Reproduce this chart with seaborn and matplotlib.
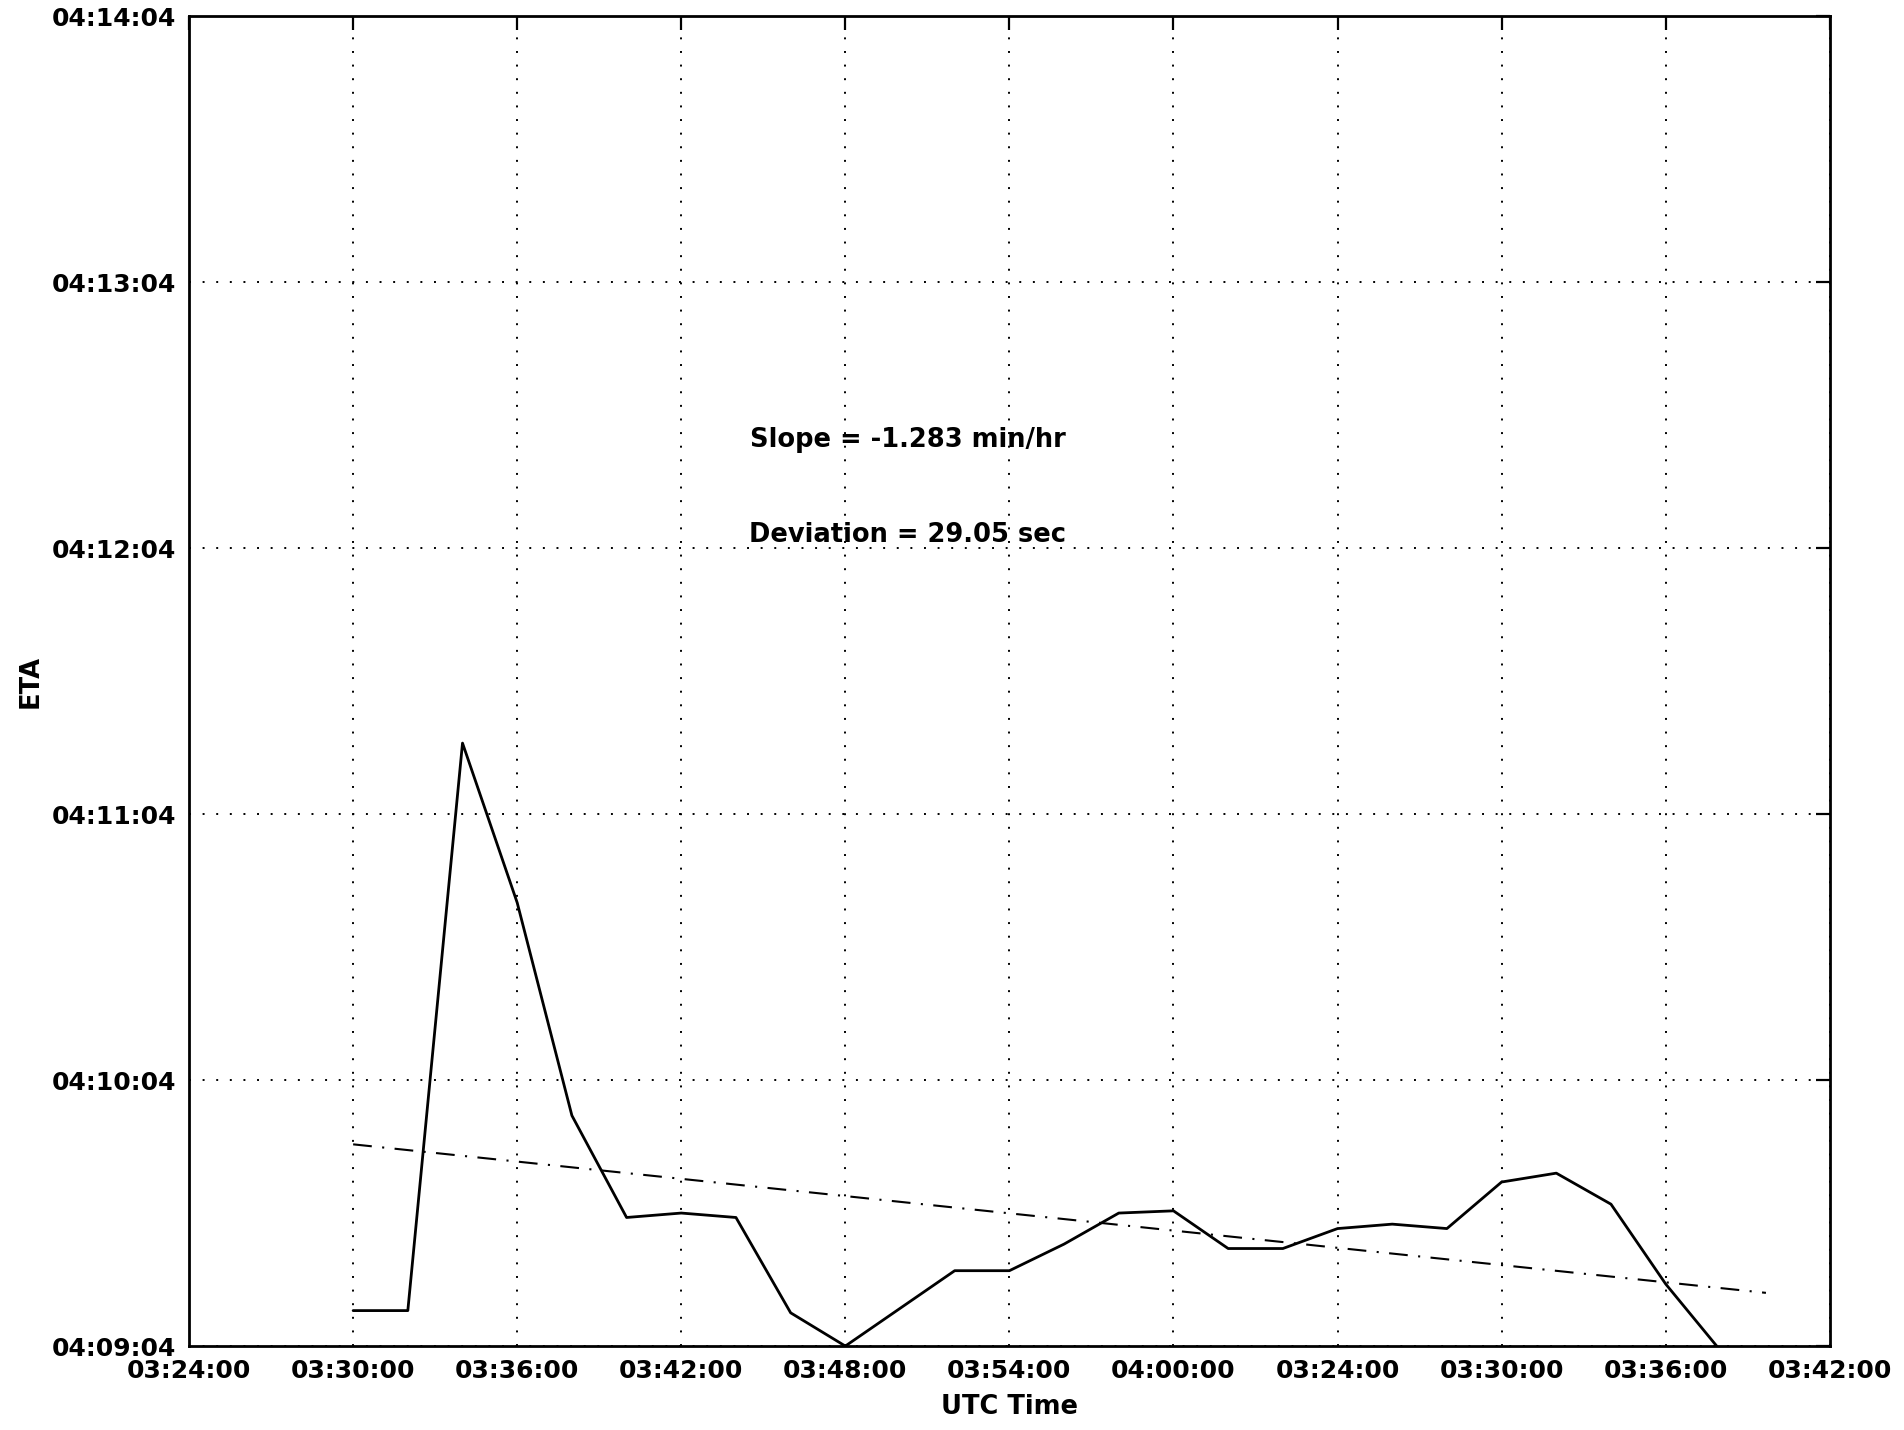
import numpy as np
import pandas as pd
import matplotlib
matplotlib.use("Agg")
import matplotlib.pyplot as plt
import seaborn as sns

# Sample times (UTC) and the estimated time of arrival at each sample
utc_time = ["03:30:00", "03:32:00", "03:34:00", "03:36:00", "03:38:00", "03:40:00",
            "03:42:00", "03:44:00", "03:46:00", "03:48:00", "03:50:00", "03:52:00",
            "03:54:00", "03:56:00", "03:58:00", "04:00:00", "04:02:00", "04:04:00",
            "04:06:00", "04:08:00", "04:10:00", "04:12:00", "04:14:00", "04:16:00",
            "04:18:00", "04:20:00"]
eta = ["04:09:12", "04:09:12", "04:11:20", "04:10:44", "04:09:56", "04:09:33",
       "04:09:34", "04:09:33", "04:09:11.5", "04:09:04", "04:09:12.5", "04:09:21",
       "04:09:21", "04:09:27", "04:09:34", "04:09:34.5", "04:09:26", "04:09:26",
       "04:09:30.5", "04:09:31.5", "04:09:30.5", "04:09:41", "04:09:43", "04:09:36",
       "04:09:18", "04:09:03"]

# End points of the fitted trend line
fit_time = ["03:30:00", "04:21:40"]
fit_eta = ["04:09:49.5", "04:09:16"]

x_tick_labels = ["03:24:00", "03:30:00", "03:36:00", "03:42:00", "03:48:00", "03:54:00",
                 "04:00:00", "03:24:00", "03:30:00", "03:36:00", "03:42:00"]
y_tick_labels = ["04:09:04", "04:10:04", "04:11:04", "04:12:04", "04:13:04", "04:14:04"]

slope_text = "Slope = -1.283 min/hr"
deviation_text = "Deviation = 29.05 sec"

# Convert to numeric axes: minutes after the first x tick, seconds after the first y tick
x_origin = pd.to_timedelta(x_tick_labels[0])
y_origin = pd.to_timedelta(y_tick_labels[0])
tick_step_min = 6


def to_minutes(times):
    return ((pd.to_timedelta(times) - x_origin) / pd.Timedelta(minutes=1)).to_numpy()


def to_seconds(times):
    return ((pd.to_timedelta(times) - y_origin) / pd.Timedelta(seconds=1)).to_numpy()


df = pd.DataFrame({"t": to_minutes(utc_time), "eta": to_seconds(eta)})
fit = pd.DataFrame({"t": to_minutes(fit_time), "eta": to_seconds(fit_eta)})

x_ticks = np.arange(len(x_tick_labels)) * tick_step_min
y_ticks = to_seconds(y_tick_labels)

sns.set_style("white")
plt.rcParams["font.family"] = ["DejaVu Sans"]
plt.rcParams["text.color"] = "black"
plt.rcParams["axes.labelcolor"] = "black"
plt.rcParams["xtick.color"] = "black"
plt.rcParams["ytick.color"] = "black"

fig = plt.figure(figsize=(19.04, 14.30), dpi=100)
ax = fig.add_axes([0.0993, 0.0587, 0.8617, 0.9301])

sns.lineplot(data=df, x="t", y="eta", color="black", linewidth=2.0, ax=ax)
sns.lineplot(data=fit, x="t", y="eta", color="black", linewidth=1.5,
             linestyle=(0, (9, 5, 1, 5)), ax=ax)

ax.set_xlim(x_ticks[0], x_ticks[-1])
ax.set_ylim(y_ticks[0], y_ticks[-1])
ax.set_xticks(x_ticks)
ax.set_xticklabels(x_tick_labels, fontsize=18, fontweight="bold")
ax.set_yticks(y_ticks)
ax.set_yticklabels(y_tick_labels, fontsize=18, fontweight="bold")

ax.tick_params(direction="in", length=10, width=1.6, top=True, right=True,
               colors="black", labelcolor="black", pad=9)
ax.grid(True, color="black", linestyle=(0, (1, 6)), linewidth=1.4)
for sp in ax.spines.values():
    sp.set_visible(True)
    sp.set_color("black")
    sp.set_linewidth(2.0)

ax.set_xlabel("UTC Time", fontsize=18.5, fontweight="bold", labelpad=8, color="black")
ax.set_ylabel("ETA", fontsize=18.5, fontweight="bold", labelpad=6, color="black")

ax.text(0.342, 0.676, slope_text, transform=ax.transAxes, fontsize=18.5,
        fontweight="bold", va="baseline", ha="left", color="black")
ax.text(0.341, 0.6045, deviation_text, transform=ax.transAxes, fontsize=18.5,
        fontweight="bold", va="baseline", ha="left", color="black")

fig.savefig("out.png", dpi=100, facecolor="white")
